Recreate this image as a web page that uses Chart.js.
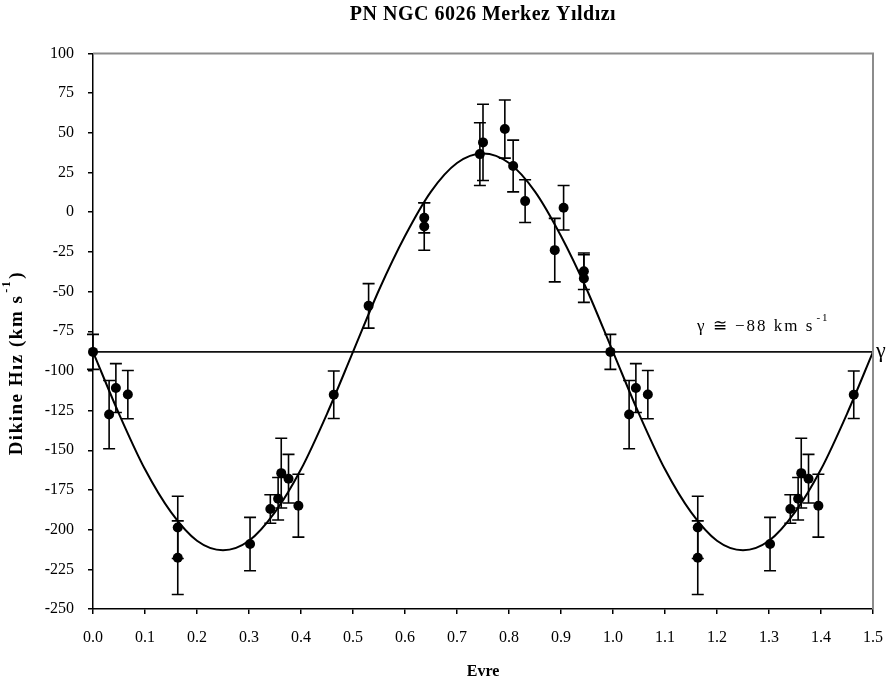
<!DOCTYPE html>
<html>
<head>
<meta charset="utf-8">
<script src="https://cdn.jsdelivr.net/npm/chart.js@4"></script>
<style>
  html, body { margin: 0; padding: 0; background: #fff; }
  #wrap { width: 886px; height: 687px; }
</style>
</head>
<body>
<div id="wrap"><canvas id="rvChart" width="886" height="687"></canvas></div>
<script>
// Radial velocity measurements, folded on orbital phase (two cycles shown)
const obsPhase = [
  0.000, 0.031, 0.044, 0.067, 0.163, 0.163, 0.302, 0.341, 0.356, 0.362, 0.376, 0.395, 0.463,
  0.530, 0.637, 0.637, 0.744, 0.750, 0.792, 0.808, 0.831, 0.888, 0.905, 0.944, 0.944,
  0.995, 1.031, 1.044, 1.067, 1.163, 1.163, 1.302, 1.341, 1.356, 1.362, 1.376, 1.395, 1.463,
];
const obsVel = [
  -88, -127.5, -110.8, -114.9, -198.6, -217.7, -209.1, -187, -180.5, -164.4, -167.9, -184.9, -115,
  -59, -3.5, -9, 36.6, 44, 52.4, 29.1, 7, -23.9, 2.8, -37.2, -41.8,
  -88, -127.5, -110.8, -114.9, -198.6, -217.7, -209.1, -187, -180.5, -164.4, -167.9, -184.9, -115,
];
const obsErr = [
  11, 21.5, 15.4, 15.2, 19.6, 23.2, 16.8, 9, 13.4, 22, 15.3, 19.8, 15,
  14, 9.5, 15, 19.8, 24, 18.3, 16.3, 13.5, 20, 14, 11.5, 15,
  11, 21.5, 15.4, 15.2, 19.6, 23.2, 16.8, 9, 13.4, 22, 15.3, 19.8, 15,
];

// fitted orbit, sampled every 0.05 in phase
const fitPhase = [
  0.00, 0.05, 0.10, 0.15, 0.20, 0.25, 0.30, 0.35, 0.40, 0.45,
  0.50, 0.55, 0.60, 0.65, 0.70, 0.75, 0.80, 0.85, 0.90, 0.95,
  1.00, 1.05, 1.10, 1.15, 1.20, 1.25, 1.30, 1.35, 1.40, 1.45, 1.50,
];
const fitVel = [
  -88, -127, -162, -189, -207, -213, -207, -189, -162, -127,
  -88, -49, -15, 13, 31, 37, 31, 13, -15, -49,
  -88, -127, -162, -189, -207, -213, -207, -189, -162, -127, -88,
];

// systemic velocity
const gammaVel = -88;
const gammaPhase = [0, 1.5];

const titleText = "PN NGC 6026 Merkez Y\u0131ld\u0131z\u0131";
const yTitleText = "Dikine H\u0131z (km s";
const serif = "'Liberation Serif', 'Times New Roman', serif";

const toXY = (xs, ys) => xs.map((x, i) => ({ x: x, y: ys[i] }));

// text with a raised "-1" and optional closing part
function drawWithSup(ctx, x, y, main, mainFont, supFont, supRise, tail) {
  ctx.font = mainFont;
  ctx.fillText(main, x, y);
  let cx = x + ctx.measureText(main).width + 2;
  ctx.font = supFont;
  ctx.fillText("-1", cx, y - supRise);
  cx += ctx.measureText("-1").width + 1;
  if (tail) {
    ctx.font = mainFont;
    ctx.fillText(tail, cx, y);
  }
}

// error bars, frame, titles and gamma annotation
const extras = {
  id: "extras",
  beforeDatasetsDraw(chart) {
    const ctx = chart.ctx;
    const xs = chart.scales.x;
    const ys = chart.scales.y;
    ctx.save();
    ctx.strokeStyle = "#000";
    ctx.lineWidth = 1.6;
    obsPhase.forEach((p, i) => {
      const px = xs.getPixelForValue(p);
      const top = ys.getPixelForValue(obsVel[i] + obsErr[i]);
      const bot = ys.getPixelForValue(obsVel[i] - obsErr[i]);
      ctx.beginPath();
      ctx.moveTo(px, top);
      ctx.lineTo(px, bot);
      ctx.moveTo(px - 6, top);
      ctx.lineTo(px + 6, top);
      ctx.moveTo(px - 6, bot);
      ctx.lineTo(px + 6, bot);
      ctx.stroke();
    });
    ctx.restore();
  },
  afterDraw(chart) {
    const ctx = chart.ctx;
    const a = chart.chartArea;
    const ys = chart.scales.y;
    const midX = (a.left + a.right) / 2;
    ctx.save();
    // grey frame on top and right
    ctx.strokeStyle = "#8c8c8c";
    ctx.lineWidth = 2;
    ctx.beginPath();
    ctx.moveTo(a.left, a.top);
    ctx.lineTo(a.right, a.top);
    ctx.lineTo(a.right, a.bottom);
    ctx.stroke();

    ctx.fillStyle = "#000";

    // chart title, centred over the plot area
    ctx.textAlign = "center";
    ctx.textBaseline = "middle";
    ctx.letterSpacing = "0.5px";
    ctx.font = "bold 20px " + serif;
    ctx.fillText(titleText, midX, 15);

    // rotated y-axis title
    ctx.textAlign = "left";
    ctx.textBaseline = "middle";
    ctx.letterSpacing = "1.5px";
    ctx.save();
    ctx.font = "bold 19px " + serif;
    const yw = ctx.measureText(yTitleText).width + 40;
    ctx.translate(17, 355);
    ctx.rotate(-Math.PI / 2);
    drawWithSup(ctx, -yw / 2, 0, yTitleText, "bold 19px " + serif, "bold 12px " + serif, 10, ")");
    ctx.restore();

    // gamma label with superscript
    ctx.textBaseline = "alphabetic";
    ctx.letterSpacing = "2px";
    const gy = ys.getPixelForValue(gammaVel);
    drawWithSup(ctx, 697, gy - 21, "\u03b3 \u2245 \u221288 km s", "17px " + serif, "11px " + serif, 10, "");

    ctx.letterSpacing = "0px";
    ctx.font = "22px " + serif;
    ctx.textBaseline = "middle";
    ctx.fillText("\u03b3", a.right + 3, gy - 1);
    ctx.restore();
  },
};

new Chart(document.getElementById("rvChart"), {
  type: "scatter",
  data: {
    datasets: [
      {
        label: "gamma",
        data: toXY(gammaPhase, [gammaVel, gammaVel]),
        showLine: true,
        borderColor: "#111",
        borderWidth: 1.6,
        pointRadius: 0,
        order: 3,
      },
      {
        label: "fit",
        data: toXY(fitPhase, fitVel),
        showLine: true,
        borderColor: "#000",
        borderWidth: 2,
        pointRadius: 0,
        cubicInterpolationMode: "monotone",
        order: 2,
      },
      {
        label: "obs",
        data: toXY(obsPhase, obsVel),
        pointRadius: 5,
        pointBackgroundColor: "#000",
        pointBorderColor: "#000",
        pointBorderWidth: 0,
        clip: false,
        order: 1,
      },
    ],
  },
  options: {
    responsive: false,
    animation: false,
    events: [],
    layout: { padding: { left: 0, right: 13, top: 53.5, bottom: 0 } },
    plugins: {
      legend: { display: false },
      tooltip: { enabled: false },
      title: { display: false },
    },
    scales: {
      x: {
        type: "linear",
        min: 0,
        max: 1.5,
        afterFit: (s) => {
          s.height = 78;
          s.paddingLeft = 0;
          s.paddingRight = 0;
        },
        border: { color: "#000", width: 1.5 },
        grid: { drawOnChartArea: false, drawTicks: true, tickLength: 5, color: "#000", lineWidth: 1.5 },
        ticks: {
          stepSize: 0.1,
          color: "#000",
          padding: 14,
          maxRotation: 0,
          font: { family: serif, size: 16 },
          callback: (v) => v.toFixed(1),
        },
        title: {
          display: true,
          text: "Evre",
          color: "#000",
          font: { family: serif, size: 16, weight: "bold" },
          padding: { top: 0, bottom: 5.4 },
        },
      },
      y: {
        type: "linear",
        min: -250,
        max: 100,
        afterFit: (s) => {
          s.width = 93;
          s.paddingTop = 0;
          s.paddingBottom = 0;
        },
        border: { color: "#000", width: 1.5 },
        grid: { drawOnChartArea: false, drawTicks: true, tickLength: 5, color: "#000", lineWidth: 1.5 },
        ticks: {
          stepSize: 25,
          color: "#000",
          padding: 14,
          font: { family: serif, size: 16 },
        },
      },
    },
  },
  plugins: [extras],
});
</script>
</body>
</html>
